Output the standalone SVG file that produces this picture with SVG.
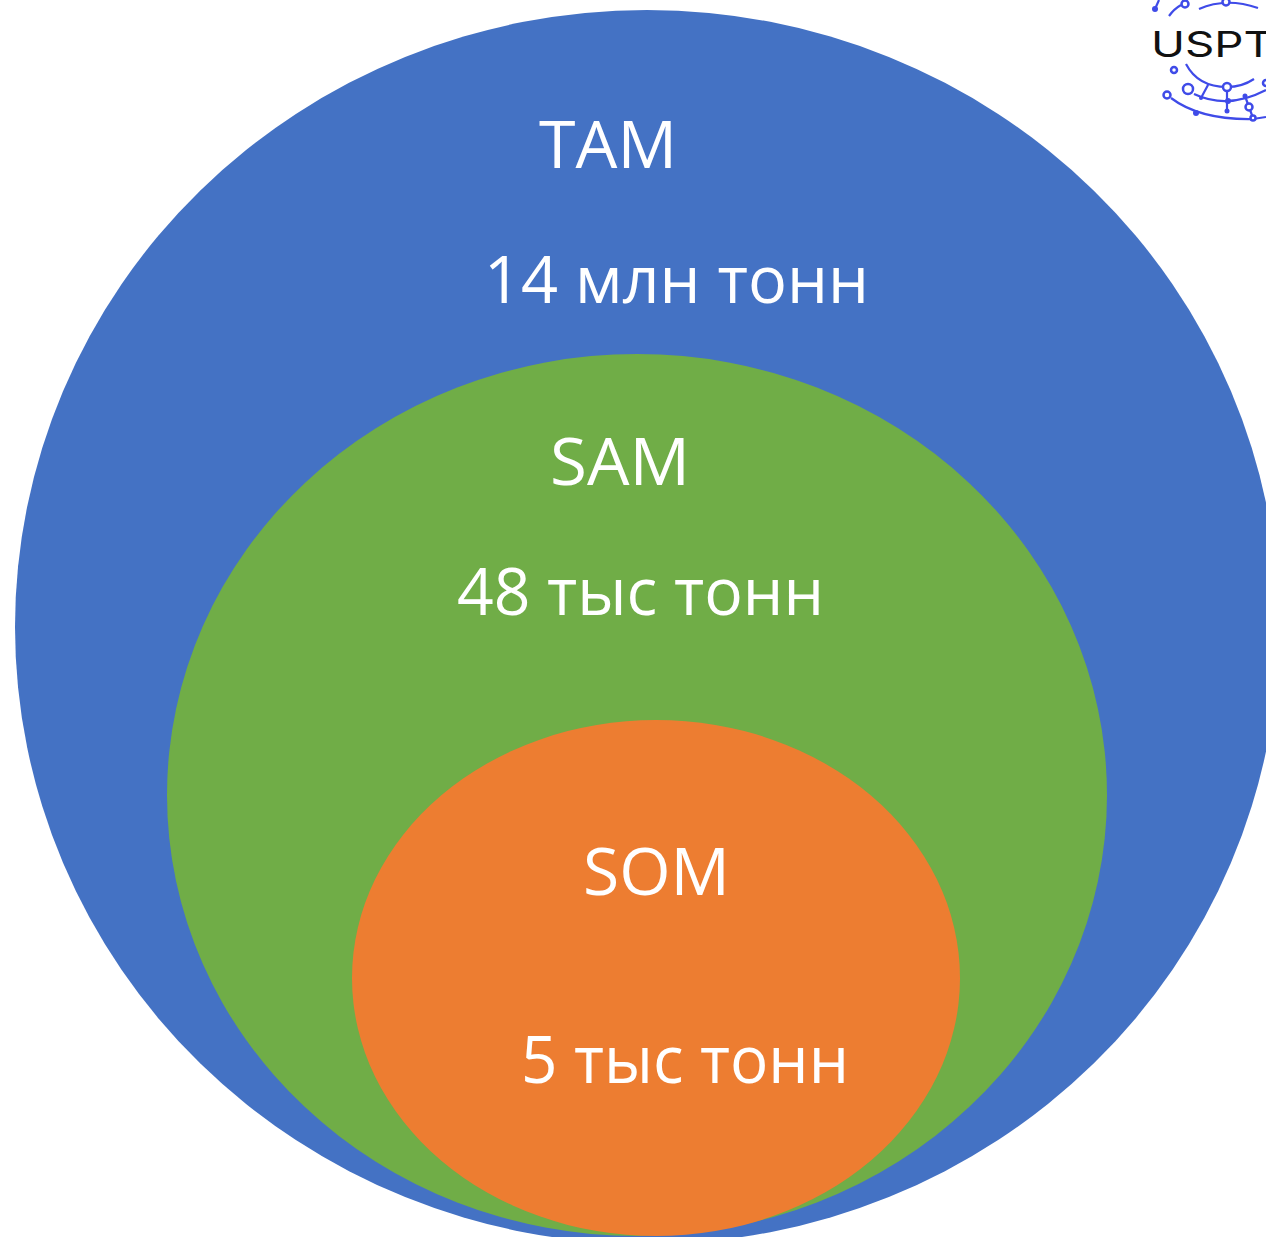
<svg xmlns="http://www.w3.org/2000/svg" width="1266" height="1237" viewBox="0 0 1266 1237">
<style>
.t{font-family:"Open Sans","Noto Sans","DejaVu Sans",sans-serif;font-size:65px;fill:#fff}
.c{fill:none;stroke:#3f4be8;stroke-width:2.2}
.n{fill:#fff;stroke:#3f4be8;stroke-width:2.5}
.d{fill:#3f4be8}
</style>
<rect width="1266" height="1237" fill="#fff"/>
<g id="tam"><ellipse cx="647" cy="627" rx="632" ry="617" fill="#4472c4"/>
<text class="t" x="539" y="168" textLength="138" lengthAdjust="spacingAndGlyphs">TAM</text><text class="t" x="484" y="303" textLength="385" lengthAdjust="spacingAndGlyphs">14 млн тонн</text></g>
<g id="sam"><ellipse cx="637" cy="795" rx="470" ry="441" fill="#70ad47"/>
<text class="t" x="550" y="485" textLength="140" lengthAdjust="spacingAndGlyphs">SAM</text><text class="t" x="457" y="615" textLength="367" lengthAdjust="spacingAndGlyphs">48 тыс тонн</text></g>
<g id="som"><ellipse cx="656" cy="978" rx="304" ry="258" fill="#ed7d31"/>
<text class="t" x="583" y="895" textLength="147" lengthAdjust="spacingAndGlyphs">SOM</text><text class="t" x="521" y="1083" textLength="328" lengthAdjust="spacingAndGlyphs">5 тыс тонн</text></g>
<g id="logo">
<path class="c" d="M1155 9L1159 0M1169 16Q1174 9 1181 5M1199 9Q1226 -3 1258 8M1186 64Q1198 87 1227 87Q1242 87 1254 79M1194 94Q1228 110 1266 90M1208 85L1201 98M1227 87V111M1171 98Q1200 120 1253 119L1266 117M1245 96L1253 118"/>
<circle class="n" cx="1185" cy="4" r="3.5"/><circle class="n" cx="1226" cy="2" r="3.5"/><circle class="n" cx="1174" cy="70" r="3"/><circle class="n" cx="1227" cy="87" r="4"/><circle class="n" cx="1188" cy="89" r="5"/><circle class="n" cx="1167" cy="95" r="3.5"/><circle class="n" cx="1249" cy="107" r="3.5"/><circle class="n" cx="1253" cy="118" r="2.5"/><circle class="n" cx="1266" cy="83" r="3"/>
<circle class="d" cx="1155" cy="9" r="3"/><circle class="d" cx="1201" cy="98" r="2"/><circle class="d" cx="1228" cy="101" r="3"/><circle class="d" cx="1227" cy="111" r="2.5"/><circle class="d" cx="1196" cy="113" r="3"/><circle class="d" cx="1245" cy="96" r="2.5"/>
<text x="1151" y="57" font-family="Inter,sans-serif" font-size="35" font-weight="400" textLength="122" lengthAdjust="spacingAndGlyphs" fill="#111">USPT</text>
</g>
</svg>
